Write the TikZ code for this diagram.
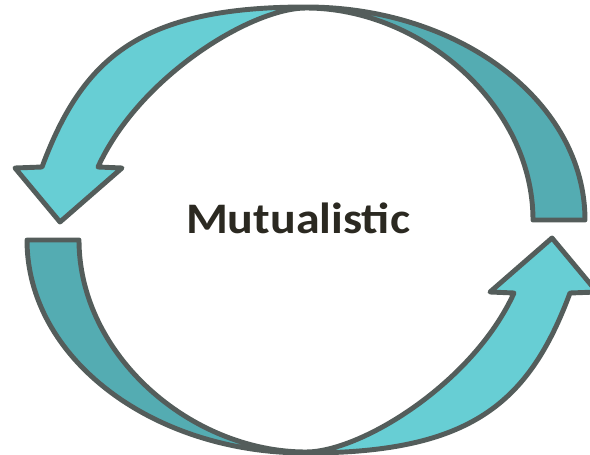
\documentclass[tikz,border=0pt]{standalone}
\usepackage{fontspec}
\setmainfont{Carlito}
\usepackage{tikz}

\definecolor{lightteal}{RGB}{103,206,212}
\definecolor{darkteal}{RGB}{84,172,178}
\definecolor{rimgray}{RGB}{84,93,91}
\definecolor{inkgray}{RGB}{43,41,33}

% one half of the cycle: a crescent band ending in an arrow head
\newcommand{\arrowband}{(279,10) .. controls (279,128) and (154,223) .. (0,223)
  .. controls (-165,223) and (-223,173) .. (-264,63)
  -- (-291,62) -- (-246,8) -- (-184,62) -- (-208,63)
  .. controls (-167,153) and (-55,222) .. (0,222)
  .. controls (115,222) and (227,125) .. (227,10) -- cycle}

\begin{document}
\begin{tikzpicture}[%
	x=0.025cm, y=0.025cm,
	rim/.style={draw=rimgray, line width=3.5pt, line join=round},
	title/.style={text=inkgray, font=\fontsize{31}{33}\selectfont\bfseries, xscale=1.1}
	]
	\clip (-306,-224) rectangle (284,230);
	
	\foreach \r in {0,180}{
		\begin{scope}[rotate=\r]
			\fill[lightteal] \arrowband;
			\begin{scope}
				\clip (0,-20) rectangle (320,260);
				\fill[darkteal] \arrowband;
			\end{scope}
			\path[rim] \arrowband;
		\end{scope}
	}
	
	\node[title, anchor=base] (mutual) at (-8,-3) {Mutualistic};
\end{tikzpicture}
\end{document}
